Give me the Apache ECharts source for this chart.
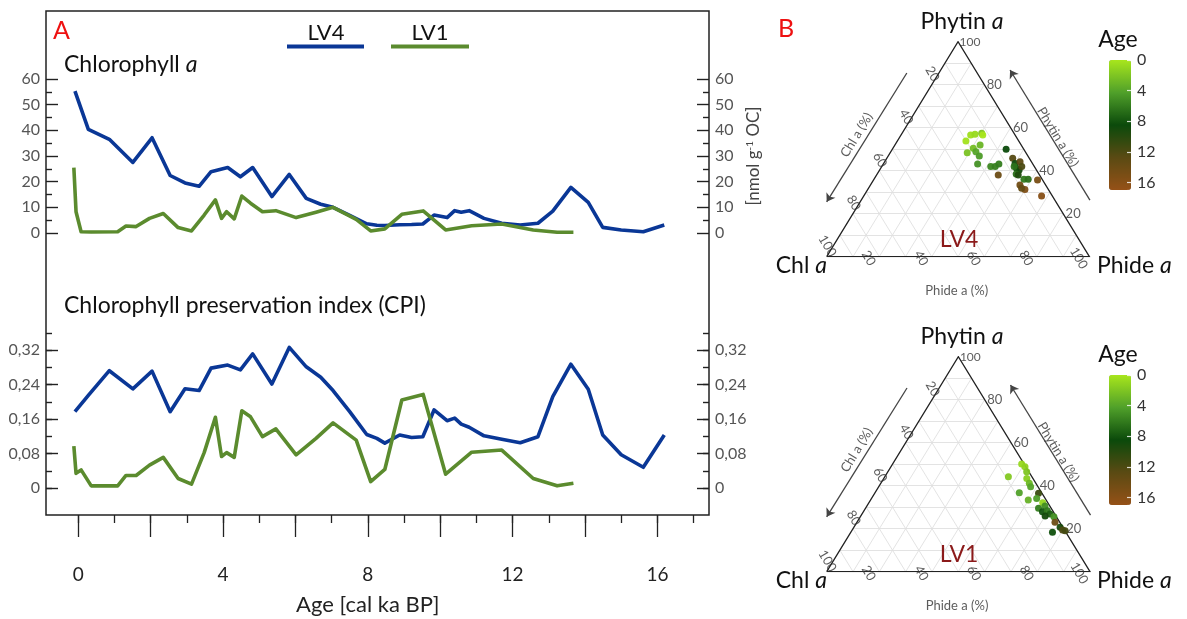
<!DOCTYPE html>
<html><head><meta charset="utf-8">
<script src="https://cdn.jsdelivr.net/npm/echarts@6/dist/echarts.min.js"></script>
<style>html,body{margin:0;padding:0;background:#fff}#c{width:1187px;height:619px}</style>
</head><body><div id="c"></div>
<script>
// ---------- Panel A data ----------
const lv4Age = [-0.09,0.28,0.86,1.51,2.04,2.54,2.95,3.34,3.67,4.13,4.48,4.82,5.35,5.83,6.30,6.70,7.04,7.50,7.97,8.25,8.47,8.88,9.21,9.52,9.83,10.19,10.40,10.58,10.80,11.21,11.70,12.21,12.70,13.11,13.61,14.09,14.49,15.00,15.61,16.19];
const lv4Chl = [55.3,40.4,36.5,27.5,37.1,22.4,19.5,18.2,23.9,25.5,21.9,25.5,14.2,22.8,13.5,11.2,10.0,6.9,3.6,3.0,2.9,3.2,3.3,3.5,7.0,6.0,8.7,8.1,8.7,5.7,3.8,3.1,3.8,8.5,17.8,11.9,2.2,1.2,0.5,3.1];
const lv4Cpi = [0.177,0.215,0.272,0.230,0.271,0.177,0.230,0.226,0.278,0.285,0.274,0.311,0.241,0.326,0.281,0.257,0.226,0.177,0.124,0.115,0.104,0.123,0.117,0.119,0.181,0.156,0.162,0.148,0.141,0.121,0.113,0.105,0.119,0.212,0.287,0.229,0.123,0.077,0.048,0.123];
const lv1Age = [-0.12,-0.06,0.08,0.36,1.09,1.32,1.60,1.97,2.35,2.76,3.13,3.48,3.79,3.96,4.10,4.31,4.52,4.76,5.09,5.46,6.02,6.57,7.04,7.68,8.08,8.47,8.94,9.53,10.15,10.87,11.70,12.57,13.23,13.68];
const lv1Chl = [25.5,8.3,0.5,0.4,0.5,2.7,2.5,5.7,7.6,2.1,0.8,7.0,12.9,5.7,8.3,5.5,14.4,11.6,8.3,8.7,6.0,8.1,10.0,5.3,0.8,1.6,7.3,8.6,1.2,2.8,3.5,1.2,0.3,0.3];
const lv1Cpi = [0.097,0.034,0.042,0.005,0.005,0.029,0.029,0.053,0.071,0.022,0.009,0.082,0.164,0.073,0.082,0.071,0.179,0.165,0.119,0.137,0.077,0.115,0.151,0.111,0.015,0.043,0.204,0.217,0.032,0.083,0.088,0.022,0.005,0.011];

// ---------- Panel B data (ternary: Phide %, Phytin %, Chl = rest) ----------
const lv4Phide  = [26.5,28.0,30.3,31.1,26.1,30.6,32.4,29.3,32.4,34.7,35.9,43.3,41.5,43.2,44.0,47.9,50.0,51.5,51.7,53.1,50.4,52.9,53.9,53.3,46.3,57.1,58.7,62.4,56.9,59.8,67.7,58.3];
const lv4Phytin = [56.6,56.9,57.4,56.6,53.8,50.4,52.0,48.4,48.8,46.8,43.1,50.0,41.9,41.9,43.1,45.8,43.4,44.2,41.1,40.3,41.9,38.5,38.0,41.9,38.0,36.0,36.0,35.7,33.3,31.3,28.2,31.8];
const lv4TAge   = [0.5,0.8,2.0,null,0.3,2.5,3.0,2.2,4.0,4.5,5.0,8.5,5.5,5.8,6.0,12.5,8.8,13.0,8.2,9.0,6.5,6.8,9.5,12.0,14.0,6.2,6.6,15.0,14.5,15.5,16.0,13.5];
const lv1Phide  = [49.0,50.9,52.7,46.9,54.3,56.4,57.7,54.8,62.2,59.9,62.7,66.0,67.6,65.7,68.0,69.6,71.4,70.0,73.5,75.2,78.3,79.9,81.0,76.6];
const lv1Phytin = [50.1,48.8,46.5,44.2,43.4,41.1,39.5,36.7,36.5,33.3,34.1,32.1,30.6,29.5,27.9,28.4,26.8,25.9,25.6,23.0,20.7,19.4,19.1,18.3];
const lv1TAge   = [0.8,1.2,2.0,1.8,1.5,2.8,4.0,4.2,11.0,3.2,4.5,1.0,5.2,6.0,8.0,6.2,7.5,9.0,5.0,14.0,9.2,12.0,11.5,8.2];

const ageTicks = [0, 4, 8, 12, 16];

// ---------- styling ----------
const FONT = 'Lato, "Open Sans", sans-serif';
const BLUE = '#0a3796', GREEN = '#5b8b2e';
const TICK = '#222';
const S = Math.sqrt(3) / 2;
const tern = (phide, phytin) => [phide + phytin / 2, phytin * S];
const zip = (a, b) => a.map((v, i) => [v, b[i]]);
const cpiFmt = v => (v === 0 ? '0' : v.toFixed(2).replace('.', ','));
const XMIN = (46 - 78.2) / 36.2, XMAX = (709 - 78.2) / 36.2;

const G = (left, top, width, height) => ({left, top, width, height, containLabel: false, outerBoundsMode: 'none'});
const grid = [
  G(46, 79, 663, 154),            // 0 chl lines
  G(46, 332.75, 663, 155.25),     // 1 cpi lines
  G(46, 79, 663, 154),            // 2 chl y ticks
  G(46, 332.75, 663, 155.25),     // 3 cpi minor y ticks
  G(46, 350, 663, 138),           // 4 cpi major y ticks
  G(78.2, 11, 16 * 36.2, 504),    // 5 x major ticks
  G(78.2, 11, 17 * 36.2, 504),    // 6 x minor ticks
  G(826.7, 41.7, 262.7, 215),     // 7 ternary LV4
  G(826.7, 356.7, 263.3, 215),    // 8 ternary LV1
  G(1109, 60, 22, 130),           // 9 colorbar axis 1
  G(1109, 375, 22, 130)           // 10 colorbar axis 2
];

const hiddenX = (g, min, max) => ({type: 'value', gridIndex: g, min, max, show: false, axisLine: {onZero: false}});
const hiddenY = (g, min, max) => ({type: 'value', gridIndex: g, min, max, show: false, axisLine: {onZero: false}});
const xAxis = [
  hiddenX(0, XMIN, XMAX), hiddenX(1, XMIN, XMAX),
  hiddenX(2, 0, 1), hiddenX(3, 0, 1), hiddenX(4, 0, 1),
  {type: 'value', gridIndex: 5, min: 0, max: 16, interval: 2,
   axisLine: {show: false, onZero: false}, splitLine: {show: false},
   axisTick: {show: true, length: 22, lineStyle: {color: TICK, width: 1.3}},
   axisLabel: {margin: 50, fontSize: 19, color: '#222', fontFamily: FONT,
               formatter: v => (v % 4 === 0 ? String(v) : '')},
   name: 'Age [cal ka BP]', nameLocation: 'middle', nameGap: 79,
   nameTextStyle: {fontSize: 22, color: '#222', fontFamily: FONT}},
  {type: 'value', gridIndex: 6, min: 0, max: 17, interval: 1,
   axisLine: {show: false, onZero: false}, splitLine: {show: false}, axisLabel: {show: false},
   axisTick: {show: true, length: 8, lineStyle: {color: TICK, width: 1.3}}},
  hiddenX(7, 0, 100), hiddenX(8, 0, 100), hiddenX(9, 0, 1), hiddenX(10, 0, 1)
];

const yTickAxis = (g, pos, min, max, interval, len, labels, extra) => Object.assign({
  type: 'value', gridIndex: g, position: pos, min, max, interval,
  axisLine: {show: false, onZero: false}, splitLine: {show: false},
  axisTick: {show: true, inside: true, length: len, lineStyle: {color: TICK, width: 1.4}},
  axisLabel: labels ? Object.assign({margin: 6, fontSize: 16, color: '#555', fontFamily: FONT}, labels) : {show: false}
}, extra || {});

const minorT = {show: true, splitNumber: 2, length: 6, lineStyle: {color: TICK, width: 1.4}};
const yAxis = [
  hiddenY(0, 0, 60),
  hiddenY(1, 0, 0.36),
  yTickAxis(2, 'left', 0, 60, 10, 12, {}, {minorTick: minorT}),
  yTickAxis(2, 'right', 0, 60, 10, 12, {}, {minorTick: minorT,
    name: '[nmol g{s|-1} OC]', nameLocation: 'middle', nameGap: 36, nameRotate: 90,
    nameTextStyle: {fontSize: 17, color: '#444', fontFamily: FONT,
      rich: {s: {fontSize: 10, color: '#444', fontFamily: FONT, verticalAlign: 'top', padding: [0, 0, 8, 0]}}}}),
  yTickAxis(3, 'left', 0, 0.36, 0.04, 6, null),
  yTickAxis(3, 'right', 0, 0.36, 0.04, 6, null),
  yTickAxis(4, 'left', 0, 0.32, 0.08, 12, {formatter: cpiFmt}),
  yTickAxis(4, 'right', 0, 0.32, 0.08, 12, {formatter: cpiFmt}),
  hiddenY(5, 0, 1), hiddenY(6, 0, 1),
  hiddenY(7, 0, 100 * S), hiddenY(8, 0, 100 * S)
];
[9, 10].forEach(g => yAxis.push({
  type: 'value', gridIndex: g, position: 'right', min: 0, max: 17, interval: 4, inverse: true,
  axisLine: {show: false, onZero: false}, splitLine: {show: false}, z: 10,
  axisTick: {show: true, inside: true, length: 4, lineStyle: {color: 'rgba(255,255,255,0.8)', width: 1.2}},
  axisLabel: {margin: 6, fontSize: 16, color: '#333', fontFamily: FONT,
              formatter: v => (ageTicks.indexOf(v) >= 0 ? String(v) : '')}
}));

const lineS = (name, xi, yi, data, color) => ({
  type: 'line', name, xAxisIndex: xi, yAxisIndex: yi, data, symbol: 'none', clip: false,
  lineStyle: {color, width: 3.6, join: 'round'}, itemStyle: {color}, z: 5, silent: true
});

const series = [
  lineS('LV4', 0, 0, zip(lv4Age, lv4Chl), BLUE),
  lineS('LV1', 0, 0, zip(lv1Age, lv1Chl), GREEN),
  lineS('LV4', 1, 1, zip(lv4Age, lv4Cpi), BLUE),
  lineS('LV1', 1, 1, zip(lv1Age, lv1Cpi), GREEN)
];

const labelFont = {fontSize: 13, color: '#333', fontFamily: FONT};
const visualMaps = [];

function addTernary(xi, yi, phide, phytin, ages, top) {
  const gridLines = [];
  for (let k = 10; k < 100; k += 10) {
    gridLines.push({coords: [tern(0, k), tern(100 - k, k)]});
    gridLines.push({coords: [tern(k, 0), tern(k, 100 - k)]});
    gridLines.push({coords: [tern(100 - k, 0), tern(0, 100 - k)]});
  }
  const common = {coordinateSystem: 'cartesian2d', xAxisIndex: xi, yAxisIndex: yi, silent: true};
  series.push(Object.assign({type: 'lines', data: gridLines, lineStyle: {color: '#e0e0e0', width: 0.9, opacity: 1}, z: 1}, common));
  series.push(Object.assign({type: 'lines', polyline: true, data: [{coords: [tern(0, 0), tern(100, 0), tern(0, 100), tern(0, 0)]}],
    lineStyle: {color: '#222', width: 1.3, opacity: 1}, z: 3}, common));
  series.push(Object.assign({type: 'lines', symbol: ['none', 'arrow'], symbolSize: 8,
    data: [{coords: [[30.5, 74.0], [0.0, 22.1]]}, {coords: [[100.2, 22.8], [69.8, 75.2]]}, {coords: [[19.9, -9.4], [79.9, -9.4]]}],
    lineStyle: {color: '#444', width: 1.3, opacity: 1}, z: 3}, common));
  const lbl = [];
  [20, 40, 60, 80, 100].forEach(c => lbl.push({value: tern(0, 100 - c), label: {show: true, formatter: String(c), offset: [-9, -6], rotate: -60}}));
  [20, 40, 60, 80].forEach(p => lbl.push({value: tern(100 - p, p), label: {show: true, formatter: String(p), offset: [10, 0]}}));
  lbl.push({value: tern(0, 100), label: {show: true, formatter: '100', offset: [12, 0], fontSize: 12}});
  [20, 40, 60, 80, 100].forEach(f => lbl.push({value: tern(f, 0), label: {show: true, formatter: String(f), offset: [-4, 10], rotate: -60}}));
  lbl.push({value: [11.4, 49.0], label: {show: true, formatter: 'Chl a (%)', rotate: 58.6, fontSize: 13}});
  lbl.push({value: [88.0, 48.2], label: {show: true, formatter: 'Phytin a (%)', rotate: -58.6, fontSize: 13}});
  lbl.push({value: [49.5, -13.6], label: {show: true, formatter: 'Phide a (%)', fontSize: 13}});
  series.push(Object.assign({type: 'scatter', symbolSize: 0, data: lbl, clip: false, z: 4,
    label: Object.assign({position: 'inside', align: 'center', verticalAlign: 'middle'}, labelFont)}, common));
  const pts = phide.map((f, i) => [tern(f, phytin[i])[0], tern(f, phytin[i])[1], ages[i] == null ? -1 : ages[i]]);
  const idx = series.length;
  series.push(Object.assign({type: 'scatter', symbolSize: 7, data: pts, encode: {x: 0, y: 1}, z: 6,
    itemStyle: {opacity: 0.95}}, common));
  visualMaps.push({
    type: 'continuous', seriesIndex: idx, dimension: 2, min: 0, max: 17, inverse: true,
    calculable: false, hoverLink: false, left: 1109, top: top, itemWidth: 22, itemHeight: 130, padding: 0,
    inRange: {color: ['#a8e61c', '#50a02a', '#0b4a0b', '#5a4a13', '#955117']},
    outOfRange: {color: '#9a9a9a'}
  });
}
addTernary(7, 10, lv4Phide, lv4Phytin, lv4TAge, 60);
addTernary(8, 11, lv1Phide, lv1Phytin, lv1TAge, 375);

// ---------- free text / decorations ----------
const txt = (x, y, rich, opts) => Object.assign({type: 'text', x, y, z: 20,
  style: Object.assign({text: rich.text, rich: rich.rich, fontFamily: FONT, fontSize: 22, fill: '#111',
    textAlign: 'left', textVerticalAlign: 'middle'}, opts || {})});
const italicRich = {n: {fontSize: 23, fontFamily: FONT, fill: '#111'}, i: {fontSize: 23, fontFamily: FONT, fontStyle: 'italic', fill: '#111'}};
const graphic = [
  {type: 'rect', shape: {x: 46, y: 11, width: 663, height: 504}, style: {fill: 'none', stroke: '#222', lineWidth: 1.5}, z: 10},
  txt(53, 31, {text: 'A'}, {fill: '#ee1111', fontSize: 25}),
  txt(778, 29, {text: 'B'}, {fill: '#ee1111', fontSize: 25}),
  txt(326, 33, {text: 'LV4'}, {textAlign: 'center', fontSize: 22}),
  txt(430, 33, {text: 'LV1'}, {textAlign: 'center', fontSize: 22}),
  {type: 'line', shape: {x1: 287, y1: 46.5, x2: 364, y2: 46.5}, style: {stroke: BLUE, lineWidth: 4}, z: 20},
  {type: 'line', shape: {x1: 391, y1: 46.5, x2: 469, y2: 46.5}, style: {stroke: GREEN, lineWidth: 4}, z: 20},
  txt(64, 65, {text: '{n|Chlorophyll }{i|a}', rich: italicRich}),
  txt(64, 306, {text: '{n|Chlorophyll preservation index (CPI)}', rich: italicRich})
];
[0, 315].forEach((dy, k) => {
  graphic.push(txt(962, 22 + dy, {text: '{n|Phytin }{i|a}', rich: italicRich}, {textAlign: 'center'}));
  graphic.push(txt(827, 266 + dy, {text: '{n|Chl }{i|a}', rich: italicRich}, {textAlign: 'right'}));
  graphic.push(txt(1097, 266 + dy, {text: '{n|Phide }{i|a}', rich: italicRich}, {textAlign: 'left'}));
  graphic.push(txt(959, 240 + dy, {text: k === 0 ? 'LV4' : 'LV1'}, {textAlign: 'center', fill: '#8b1a1a', fontSize: 23}));
  graphic.push(txt(1118, 40 + dy, {text: 'Age'}, {textAlign: 'center', fontSize: 23}));
});

const chart = echarts.init(document.getElementById('c'), null, {renderer: 'canvas'});
chart.setOption({
  animation: false, backgroundColor: '#fff',
  textStyle: {fontFamily: FONT},
  grid, xAxis, yAxis, series, visualMap: visualMaps, graphic
});
</script></body></html>
